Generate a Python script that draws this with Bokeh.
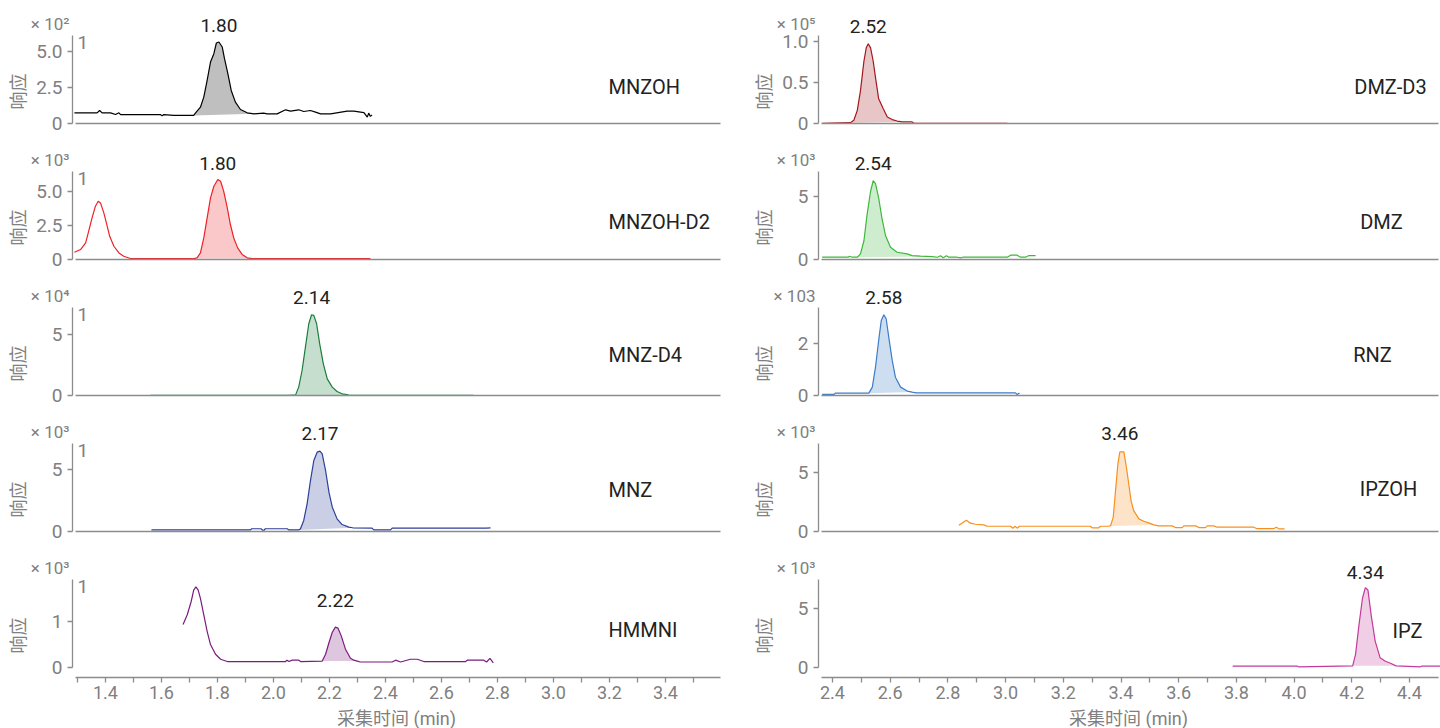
from math import pi
import numpy as np
from bokeh.plotting import figure
from bokeh.models import Range1d, FixedTicker, PrintfTickFormatter, Label
from bokeh.layouts import row, column
from bokeh.embed import file_html
from bokeh.resources import INLINE

# ---------------- data ----------------
names = ["MNZOH", "MNZOH-D2", "MNZ-D4", "MNZ", "HMMNI",
         "DMZ-D3", "DMZ", "RNZ", "IPZOH", "IPZ"]
peak_labels = ["1.80", "1.80", "2.14", "2.17", "2.22",
               "2.52", "2.54", "2.58", "3.46", "4.34"]
exponents = [2, 3, 4, 3, 3, 5, 3, 3, 3, 3]
scale_text = ["× 10²", "× 10³", "× 10⁴", "× 10³", "× 10³",
              "× 10⁵", "× 10³", "× 103", "× 10³", "× 10³"]
y_tops = [610, 6440, 72500, 7100, 1920, 107000, 6950, 3360, 7400, 7500]
ytick_vals = [[0, 2.5, 5.0], [0, 2.5, 5.0], [0, 5], [0, 5], [0, 1],
              [0, 0.5, 1.0], [0, 5], [0, 2], [0, 5], [0, 5]]
ytick_text = [["0", "2.5", "5.0"], ["0", "2.5", "5.0"], ["0", "5"], ["0", "5"], ["0", "1"],
              ["0", "0.5", "1.0"], ["0", "5"], ["0", "2"], ["0", "5"], ["0", "5"]]
xticks_left = [1.4, 1.6, 1.8, 2.0, 2.2, 2.4, 2.6, 2.8, 3.0, 3.2, 3.4]
xticks_right = [2.4, 2.6, 2.8, 3.0, 3.2, 3.4, 3.6, 3.8, 4.0, 4.2, 4.4]
minor_left = [1.3, 1.5, 1.7, 1.9, 2.1, 2.3, 2.5, 2.7, 2.9, 3.1, 3.3, 3.5]
minor_right = [2.5, 2.7, 2.9, 3.1, 3.3, 3.5, 3.7, 3.9, 4.1, 4.3]
x_title = "采集时间 (min)"
y_title = "响应"

t_mnzoh = [1.289, 1.370, 1.379, 1.388, 1.418, 1.436, 1.448, 1.454, 1.596, 1.602, 1.608, 1.644,
           1.715, 1.721, 1.739, 1.751, 1.763, 1.775, 1.787, 1.796, 1.805, 1.817, 1.825, 1.837,
           1.849, 1.864, 1.882, 1.906, 1.930, 1.965, 1.977, 2.013, 2.043, 2.061, 2.090, 2.108,
           2.132, 2.150, 2.168, 2.204, 2.263, 2.287, 2.323, 2.335, 2.340, 2.346, 2.352]
v_mnzoh = [74, 74, 90, 74, 74, 62, 74, 62, 62, 53, 62, 56,
           56, 72, 113, 183, 299, 426, 484, 558, 565, 530, 449, 345,
           229, 148, 97, 74, 67, 72, 67, 67, 95, 86, 95, 83,
           90, 79, 67, 67, 86, 86, 76, 44, 72, 49, 60]

t_mnzoh_d2 = [1.289, 1.311, 1.329, 1.340, 1.352, 1.364, 1.374, 1.382, 1.394, 1.406, 1.415, 1.430,
              1.448, 1.465, 1.489, 1.715, 1.727, 1.739, 1.751, 1.763, 1.775, 1.787, 1.801, 1.811,
              1.822, 1.835, 1.846, 1.858, 1.872, 1.888, 1.906, 1.924, 2.346]
v_mnzoh_d2 = [530, 730, 1210, 2070, 3040, 3900, 4260, 4140, 3410, 2440, 1700, 970,
              480, 240, 70, 70, 120, 480, 1580, 3040, 4510, 5360, 5850, 5730,
              5000, 3770, 2560, 1580, 850, 370, 120, 70, 70]

t_mnz_d4 = [1.561, 2.055, 2.079, 2.090, 2.102, 2.114, 2.126, 2.136, 2.144, 2.154,
            2.165, 2.178, 2.192, 2.210, 2.227, 2.245, 2.263, 2.270, 2.714]
v_mnz_d4 = [200, 200, 500, 6900, 20600, 39800, 59100, 66500, 66000, 59100,
            42600, 26100, 13700, 6900, 3300, 1400, 800, 200, 200]

t_mnz = [1.564, 1.918, 1.922, 1.955, 1.962, 1.966, 1.971, 2.049, 2.055, 2.090, 2.096,
         2.108, 2.120, 2.132, 2.144, 2.156, 2.166, 2.174, 2.186, 2.198, 2.210, 2.227,
         2.245, 2.269, 2.283, 2.352, 2.358, 2.418, 2.424, 2.600, 2.700, 2.760, 2.775]
v_mnz = [130, 130, 220, 220, 100, 100, 220, 220, 130, 130, 200,
         890, 2230, 4110, 5730, 6400, 6480, 6260, 4920, 3170, 1960, 1020,
         560, 350, 300, 270, 130, 130, 270, 270, 270, 270, 300]

t_hmmni = [1.677, 1.692, 1.706, 1.715, 1.723, 1.731, 1.739, 1.751, 1.763, 1.775, 1.793,
           1.811, 1.835, 2.043, 2.048, 2.055, 2.067, 2.090, 2.097, 2.174, 2.186, 2.198,
           2.210, 2.221, 2.230, 2.242, 2.257, 2.275, 2.287, 2.299, 2.310, 2.424, 2.436,
           2.454, 2.489, 2.513, 2.537, 2.686, 2.692, 2.751, 2.761, 2.773, 2.785]
v_hmmni = [940, 1150, 1440, 1690, 1760, 1690, 1510, 1150, 790, 500, 290,
           180, 130, 130, 160, 130, 160, 160, 130, 140, 290, 540,
           770, 880, 860, 690, 400, 200, 160, 140, 120, 120, 160,
           120, 180, 180, 130, 130, 160, 160, 120, 200, 100]

t_dmz_d3 = [2.364, 2.462, 2.474, 2.486, 2.497, 2.509, 2.517, 2.524, 2.532, 2.541,
            2.549, 2.560, 2.576, 2.590, 2.607, 2.624, 2.642, 2.676, 2.682, 3.006]
v_dmz_d3 = [300, 1000, 4000, 16000, 40000, 76000, 92000, 97000, 92000, 76000,
            56000, 30000, 18000, 8000, 4800, 3000, 2000, 2000, 300, 300]

t_dmz = [2.364, 2.455, 2.459, 2.468, 2.486, 2.497, 2.509, 2.520, 2.532, 2.541, 2.549,
         2.560, 2.572, 2.584, 2.601, 2.624, 2.659, 2.676, 2.705, 2.746, 2.764, 2.774,
         2.784, 2.795, 2.803, 2.832, 2.844, 2.852, 3.006, 3.017, 3.040, 3.052, 3.069,
         3.081, 3.104]
v_dmz = [180, 180, 260, 180, 180, 440, 1480, 3570, 5390, 6220, 5990,
         4870, 3180, 1870, 960, 570, 440, 310, 260, 230, 180, 290,
         130, 290, 180, 180, 130, 180, 180, 340, 340, 180, 180,
         310, 310]

t_rnz = [2.364, 2.405, 2.410, 2.526, 2.538, 2.549, 2.560, 2.569, 2.578, 2.586,
         2.595, 2.607, 2.618, 2.636, 2.659, 2.676, 2.690, 3.034, 3.040, 3.048]
v_rnz = [40, 40, 90, 90, 320, 1080, 2100, 2860, 3080, 2930,
         2230, 1340, 700, 320, 170, 130, 100, 100, 40, 100]

t_ipzoh = [2.838, 2.864, 2.878, 2.896, 2.924, 2.936, 3.017, 3.025, 3.033, 3.040, 3.048,
           3.294, 3.300, 3.323, 3.329, 3.358, 3.364, 3.373, 3.381, 3.389, 3.396, 3.410,
           3.419, 3.427, 3.435, 3.444, 3.462, 3.479, 3.496, 3.514, 3.531, 3.577, 3.589,
           3.612, 3.618, 3.658, 3.670, 3.693, 3.699, 3.722, 3.733, 3.860, 3.870, 3.930,
           3.939, 3.947, 3.967]
v_ipzoh = [530, 950, 700, 610, 560, 440, 440, 280, 440, 280, 440,
           440, 310, 310, 440, 440, 500, 1190, 3420, 5640, 6690, 6690,
           5360, 3970, 2580, 1750, 1060, 860, 720, 560, 470, 470, 330,
           330, 470, 470, 330, 330, 470, 470, 360, 360, 250, 250,
           360, 220, 220]

t_ipz = [3.787, 4.012, 4.015, 4.203, 4.213, 4.225, 4.237, 4.247, 4.256,
         4.267, 4.281, 4.298, 4.315, 4.336, 4.353, 4.438, 4.442, 4.510]
v_ipz = [110, 110, 60, 140, 1120, 3650, 5900, 6800, 6600,
         4490, 2250, 840, 560, 340, 140, 60, 110, 110]

times = [t_mnzoh, t_mnzoh_d2, t_mnz_d4, t_mnz, t_hmmni,
         t_dmz_d3, t_dmz, t_rnz, t_ipzoh, t_ipz]
responses = [v_mnzoh, v_mnzoh_d2, v_mnz_d4, v_mnz, v_hmmni,
             v_dmz_d3, v_dmz, v_rnz, v_ipzoh, v_ipz]
# integrated peak windows (start, end) in minutes
peak_windows = [(1.715, 1.930), (1.715, 1.924), (2.075, 2.270), (2.090, 2.283), (2.174, 2.300),
                (2.462, 2.642), (2.486, 2.746), (2.526, 2.676), (3.358, 3.514), (4.203, 4.353)]

# ---------------- styles / layout ----------------
colors = ["#000000", "#ec2227", "#1b7d3b", "#2d3f98", "#7b1b7d",
          "#a3181d", "#3db83a", "#3b7cc6", "#f7901e", "#c23a9c"]
# name label anchor (image px) and alignment
name_px = [608, 608, 608, 608, 608, 1390, 1381, 1372, 1388, 1407]
name_align = ["left"] * 5 + ["center"] * 5
name_dy = [37, 38, 41, 42, 38, 37, 38, 41, 43, 37]
label_dy = [16, 16, 17, 18, 27, 17, 17, 17, 18, 15]

FONT = "Roboto, 'Noto Sans CJK SC', sans-serif"
AXIS = "#8c8c8c"
TICK = "#808080"
DARK = "#222222"

# column geometry (image px): figure left/right, time reference tick, px per minute
COL_LEFT = [0, 746]
COL_RIGHT = [746, 1440]
T_REF = [1.4, 2.4]
PX_REF = [105, 832]
PPM = [280.0, 288.5]
AXIS_END = [720, 1438]
ROW_H = [150, 136, 136, 136, 170]
BASE = [123, 109, 109, 109, 109]   # baseline px from figure top
AX_H = 88                          # px from baseline to y-axis top


def t_at(col, px):
    return T_REF[col] + (px - PX_REF[col]) / PPM[col]


x_ranges = [Range1d(t_at(c, COL_LEFT[c]), t_at(c, COL_RIGHT[c])) for c in range(2)]


def make_panel(i, col, pos):
    H = ROW_H[pos]
    b = BASE[pos]
    W = COL_RIGHT[col] - COL_LEFT[col]
    scale = 10 ** exponents[i]
    top = y_tops[i] / scale
    dpp = top / AX_H
    p = figure(width=W, height=H, frame_width=W, frame_height=H,
               x_range=x_ranges[col], y_range=Range1d(-(H - b) * dpp, b * dpp),
               output_backend="svg", toolbar_location=None, tools="",
               min_border=0, min_border_left=0, min_border_right=0,
               min_border_top=0, min_border_bottom=0)
    p.outline_line_color = None
    p.grid.visible = False
    p.title.text = ""

    ax_x = t_at(col, COL_LEFT[col] + 72)
    ox, oy = 72, H - b   # axis origin in screen px (y from bottom)

    # y axis at fixed location
    yax = p.yaxis[0]
    yax.fixed_location = ax_x
    yax.ticker = FixedTicker(ticks=ytick_vals[i], minor_ticks=[])
    yax.major_label_overrides = {v: s for v, s in zip(ytick_vals[i], ytick_text[i])}
    yax.bounds = (0, top)
    yax.axis_line_color = AXIS
    yax.axis_line_width = 1.3
    yax.major_tick_line_color = AXIS
    yax.major_tick_line_width = 1.3
    yax.major_tick_out = 5
    yax.major_tick_in = 0
    yax.minor_tick_line_color = None
    yax.major_label_text_font = FONT
    yax.major_label_text_font_size = "19px"
    yax.major_label_text_color = TICK
    yax.major_label_standoff = 5

    # x axis
    xax = p.xaxis[0]
    xax.axis_line_color = AXIS
    xax.axis_line_width = 1.3
    xax.bounds = (t_at(col, COL_LEFT[col] + 75), t_at(col, AXIS_END[col]))
    if pos == 4:
        xax.fixed_location = -10 * dpp
        xt = xticks_left if col == 0 else xticks_right
        xax.ticker = FixedTicker(ticks=xt, minor_ticks=minor_left if col == 0 else minor_right)
        xax.formatter = PrintfTickFormatter(format="%.1f")
        xax.major_tick_line_color = AXIS
        xax.minor_tick_line_color = AXIS
        xax.major_tick_line_width = 1.3
        xax.minor_tick_line_width = 1.3
        xax.major_tick_out = 5
        xax.minor_tick_out = 5
        xax.major_tick_in = 0
        xax.minor_tick_in = 0
        xax.major_label_text_font = FONT
        xax.major_label_text_font_size = "18px"
        xax.major_label_text_color = TICK
        xax.major_label_standoff = 3
        cx = (COL_LEFT[col] + 72 + AXIS_END[col]) / 2 - COL_LEFT[col]
        p.add_layout(Label(x=cx, y=10, x_units="screen", y_units="screen",
                           text=x_title, text_align="center", text_baseline="middle",
                           text_font=FONT, text_font_size="18px", text_color=TICK))
    else:
        xax.fixed_location = 0
        xax.ticker = FixedTicker(ticks=[], minor_ticks=[])
        xax.major_tick_line_color = None
        xax.minor_tick_line_color = None
        xax.major_tick_out = 0
        xax.minor_tick_out = 0
        xax.major_label_text_font_size = "0px"

    # data
    t = np.array(times[i], dtype=float)
    y = np.array(responses[i], dtype=float) / scale
    w0, w1 = peak_windows[i]
    m = (t >= w0) & (t <= w1)
    p.patch(t[m], y[m], fill_color=colors[i], fill_alpha=0.25, line_color=None)
    p.line(t, y, line_color=colors[i], line_width=1.2)

    k = int(np.argmax(y[m]))
    p.add_layout(Label(x=t[m][k], y=y[m][k], y_offset=label_dy[i], text=peak_labels[i],
                       text_align="center", text_baseline="alphabetic",
                       text_font=FONT, text_font_size="19px", text_color=DARK))
    p.add_layout(Label(x=t_at(col, name_px[i]), y=oy + name_dy[i], x_units="data", y_units="screen",
                       text=names[i], text_align=name_align[i], text_baseline="middle",
                       text_font=FONT, text_font_size="20px", text_color=DARK))
    # decorations
    p.add_layout(Label(x=ox - 3, y=oy + AX_H + 12, x_units="screen", y_units="screen",
                       text=scale_text[i], text_align="right", text_baseline="middle",
                       text_font=FONT, text_font_size="17px", text_color=TICK))
    p.add_layout(Label(x=ox - 54, y=oy + 32, x_units="screen", y_units="screen",
                       text=y_title, angle=pi / 2, text_align="center", text_baseline="middle",
                       text_font=FONT, text_font_size="18px", text_color=TICK))
    if col == 0:
        p.add_layout(Label(x=ox + 5, y=oy + AX_H - 7, x_units="screen", y_units="screen",
                           text="1", text_align="left", text_baseline="middle",
                           text_font=FONT, text_font_size="19px", text_color=TICK))
    return p


left = [make_panel(i, 0, i) for i in range(5)]
right = [make_panel(5 + i, 1, i) for i in range(5)]
layout = row(column(*left, spacing=0), column(*right, spacing=0), spacing=0)

open("out.html", "w").write(file_html(layout, INLINE))
